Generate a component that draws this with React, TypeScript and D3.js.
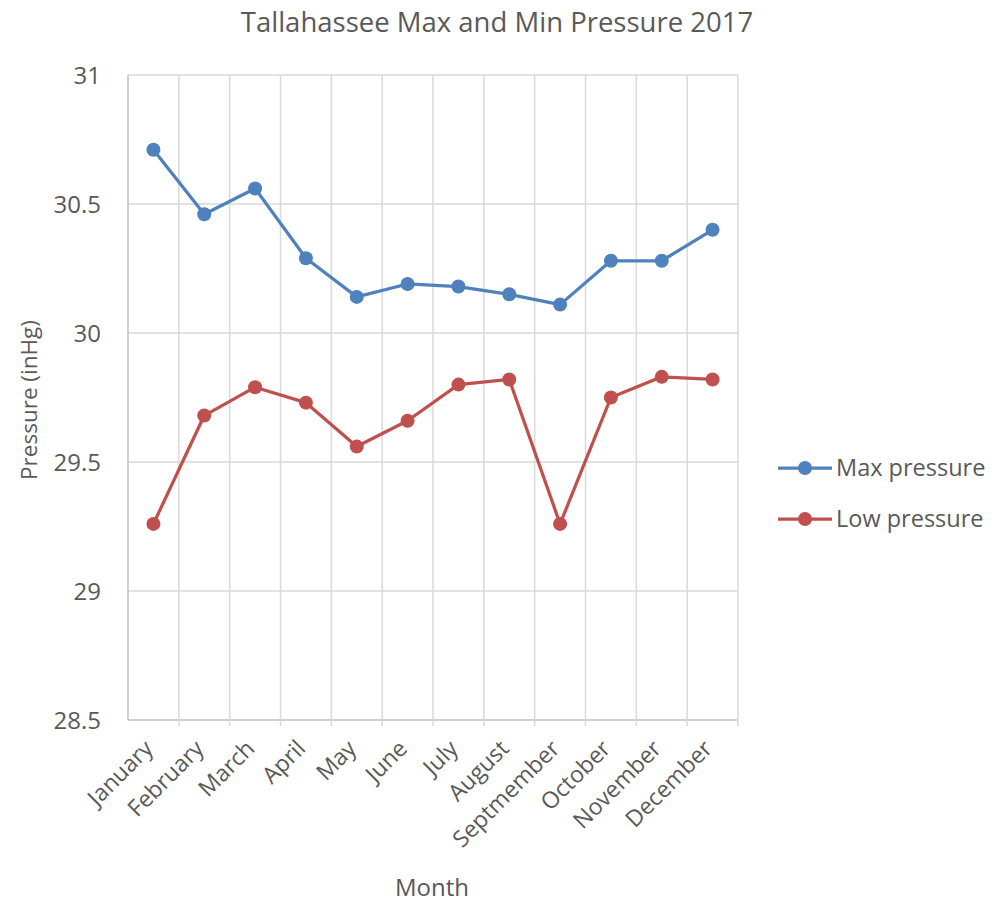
import React from "react";
import * as d3 from "d3";

const months = ["January","February","March","April","May","June","July","August","Septmember","October","November","December"];
const maxPressure = [30.71,30.46,30.56,30.29,30.14,30.19,30.18,30.15,30.11,30.28,30.28,30.40];
const lowPressure = [29.26,29.68,29.79,29.73,29.56,29.66,29.80,29.82,29.26,29.75,29.83,29.82];
const yTicks = [28.5,29,29.5,30,30.5,31];
const seriesNames = ["Max pressure","Low pressure"];
const seriesColors = ["#4f81bd","#c0504d"];

const W = 992, H = 904;
const L = 128, R = 738, T = 75, B = 720;
const FONT = "Open Sans, 'Noto Sans', sans-serif";
const TXT = "#595959";

export default function App() {
  const x = d3.scaleBand<string>().domain(months).range([L, R]);
  const y = d3.scaleLinear().domain([28.5, 31]).range([B, T]);
  const line = d3.line<number>().x((_, i) => (x(months[i]) as number) + x.bandwidth() / 2).y(d => y(d));
  const series = [maxPressure, lowPressure];
  const bounds = months.map(m => x(m) as number).concat([R]);
  return (
    <svg width={W} height={H} style={{ position: "absolute", left: 0, top: 0, background: "#fff" }} fontFamily={FONT}>
      <text x={497} y={32} textAnchor="middle" fontSize={27.5} fill={TXT}>Tallahassee Max and Min Pressure 2017</text>
      {yTicks.map(t => (
        <g key={t}>
          <line x1={L} x2={R} y1={y(t)} y2={y(t)} stroke={t === 28.5 ? "#bfbfbf" : "#d9d9d9"} strokeWidth={1.5} />
          <text x={101} y={y(t) + 8.5} textAnchor="end" fontSize={24} fill={TXT}>{t}</text>
        </g>
      ))}
      {bounds.map((b, i) => (
        <line key={i} x1={b} x2={b} y1={T} y2={i === 0 ? B : B + 6} stroke={i === 0 ? "#bfbfbf" : "#d9d9d9"} strokeWidth={1.5} />
      ))}
      {months.map(m => {
        const cx = (x(m) as number) + x.bandwidth() / 2;
        return (
          <text key={m} transform={`translate(${cx + 1},${B + 30}) rotate(-45)`} textAnchor="end" fontSize={23} fill={TXT}>{m}</text>
        );
      })}
      {series.map((s, si) => (
        <g key={si}>
          <path d={line(s) as string} fill="none" stroke={seriesColors[si]} strokeWidth={3.25} strokeLinejoin="round" />
          {s.map((v, i) => (
            <circle key={i} cx={(x(months[i]) as number) + x.bandwidth() / 2} cy={y(v)} r={7} fill={seriesColors[si]} />
          ))}
        </g>
      ))}
      {seriesNames.map((n, i) => {
        const ly = 468 + i * 51;
        return (
          <g key={n}>
            <line x1={778} x2={832} y1={ly} y2={ly} stroke={seriesColors[i]} strokeWidth={3.25} />
            <circle cx={805} cy={ly} r={7} fill={seriesColors[i]} />
            <text x={836} y={ly + 8} fontSize={23.5} fill={TXT}>{n}</text>
          </g>
        );
      })}
      <text transform={`translate(37,${400}) rotate(-90)`} textAnchor="middle" fontSize={22.5} fill={TXT}>Pressure (inHg)</text>
      <text x={432} y={896} textAnchor="middle" fontSize={24} fill={TXT}>Month</text>
    </svg>
  );
}
